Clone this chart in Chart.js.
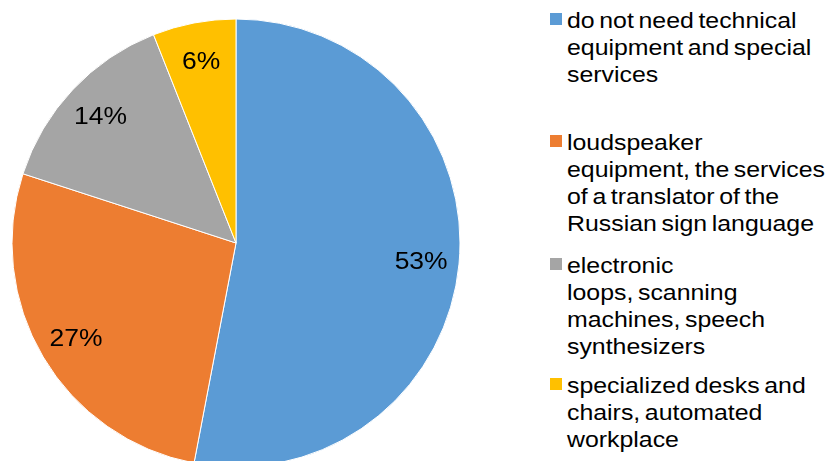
<!DOCTYPE html>
<html>
<head>
<meta charset="utf-8">
<script src="https://cdn.jsdelivr.net/npm/chart.js@4"></script>
<style>
  html, body { margin:0; padding:0; background:#fff; width:826px; height:461px; overflow:hidden; }
  #pieBox { position:absolute; left:0; top:7px; width:472px; height:472px; }
  .entry { position:absolute; left:550px; }
  .entry .sw { position:absolute; left:0; width:12px; height:12px; }
  .entry .txt {
    position:absolute; left:17px; white-space:nowrap;
    font-family:"Liberation Sans", Arial, sans-serif; font-size:22px; line-height:27px;
    color:#000; transform:scaleX(1.13); transform-origin:0 0; word-spacing:-2px;
  }
</style>
</head>
<body>
<div id="pieBox"><canvas id="pie"></canvas></div>
<div id="legend"></div>
<script>
// answers, in percent
const categories = [
  ['do not need technical', 'equipment and special', 'services'],
  ['loudspeaker', 'equipment, the services', 'of a translator of the', 'Russian sign language'],
  ['electronic', 'loops, scanning', 'machines, speech', 'synthesizers'],
  ['specialized desks and', 'chairs, automated', 'workplace']
];
const shares = [53, 27, 14, 6];
const colors = ['#5B9BD5', '#ED7D31', '#A5A5A5', '#FFC000'];

// legend block, one entry per category
const entryTops = [7, 129, 252, 372];
const legend = document.getElementById('legend');
categories.forEach((lines, i) => {
  const e = document.createElement('div');
  e.className = 'entry';
  e.style.top = entryTops[i] + 'px';
  e.innerHTML = `<div class="sw" style="top:6px;background:${colors[i]}"></div>` +
                `<div class="txt">${lines.join('<br>')}</div>`;
  legend.appendChild(e);
});

// percent labels sitting inside each slice
const sliceLabels = {
  id: 'sliceLabels',
  afterDatasetsDraw(chart) {
    const g = chart.ctx;
    const arcs = chart.getDatasetMeta(0).data;
    g.save();
    g.font = '23px "Liberation Sans", Arial, sans-serif';
    g.fillStyle = '#000';
    g.textAlign = 'center';
    g.textBaseline = 'middle';
    arcs.forEach((a, i) => {
      const mid = (a.startAngle + a.endAngle) / 2;
      const r = a.outerRadius * 0.83;
      const x = a.x + Math.cos(mid) * r;
      const y = a.y + Math.sin(mid) * r + 2;
      g.save();
      g.translate(x, y);
      g.scale(1.15, 1);
      g.fillText(shares[i] + '%', 0, 0);
      g.restore();
    });
    g.restore();
  }
};

new Chart(document.getElementById('pie'), {
  type: 'pie',
  data: {
    labels: categories.map(l => l.join(' ')),
    datasets: [{
      data: shares,
      backgroundColor: colors,
      borderColor: '#ffffff',
      borderWidth: 1,
      hoverOffset: 0
    }]
  },
  options: {
    responsive: true, maintainAspectRatio: false,
    animation: false,
    events: [],
    radius: 224,
    layout: { padding: 0 },
    plugins: { legend: { display: false }, tooltip: { enabled: false } }
  },
  plugins: [sliceLabels]
});
</script>
</body>
</html>
